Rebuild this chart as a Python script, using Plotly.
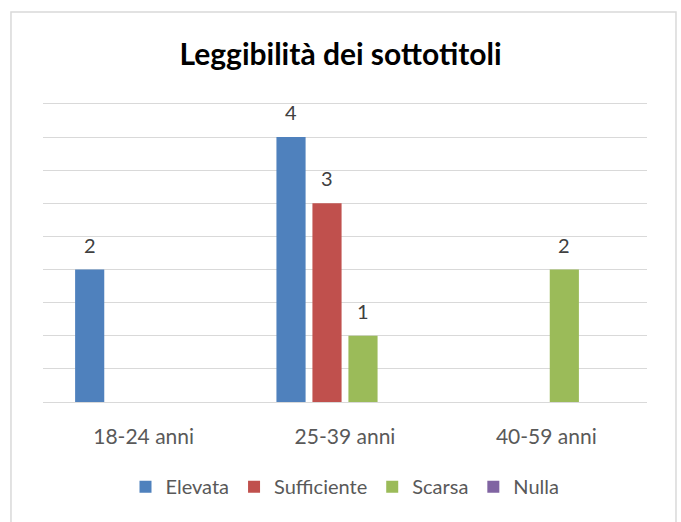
import plotly.graph_objects as go

categories = ["18-24 anni", "25-39 anni", "40-59 anni"]
series_names = ["Elevata", "Sufficiente", "Scarsa", "Nulla"]
elevata = [2, 4, 0]
sufficiente = [0, 3, 0]
scarsa = [0, 1, 2]
nulla = [0, 0, 0]
colors = ["#4F81BD", "#C0504D", "#9BBB59", "#8064A2"]

FONT = "Lato, 'Open Sans', sans-serif"
SLOT_PX = 36  # width of one bar slot inside a group

fig = go.Figure()
all_series = [elevata, sufficiente, scarsa, nulla]
for i, (name, vals, color) in enumerate(zip(series_names, all_series, colors)):
    fig.add_bar(
        name=name,
        x=categories,
        y=vals,
        marker=dict(color=color, line_width=0),
        hoverinfo="x+y+name",
    )
    # data labels, a bit higher above the bars than plotly's own outside text
    for cat, v in zip(categories, vals):
        if v:
            fig.add_annotation(
                x=cat,
                y=v,
                text=str(v),
                showarrow=False,
                yanchor="bottom",
                yshift=11,
                xshift=(i - 1.5) * SLOT_PX,
                font=dict(size=20, color="#404040", family=FONT),
            )

fig.update_layout(
    width=681,
    height=522,
    margin=dict(l=43, r=34, t=104, b=120),
    paper_bgcolor="white",
    plot_bgcolor="white",
    barmode="group",
    bargap=0.285,
    bargroupgap=0.19,
    font=dict(family=FONT, size=20, color="#595959"),
    title=dict(
        text="<b>Leggibilità dei sottotitoli</b>",
        x=0.5,
        xanchor="center",
        y=0.895,
        yanchor="middle",
        font=dict(size=30, color="#000000", family=FONT),
    ),
    xaxis=dict(
        showgrid=False,
        showline=True,
        mirror=True,
        linecolor="#D9D9D9",
        linewidth=1,
        ticks="",
        ticklabelstandoff=16,
        tickfont=dict(size=21, color="#595959"),
    ),
    yaxis=dict(
        range=[0, 4.5],
        dtick=0.5,
        showticklabels=False,
        showline=False,
        gridcolor="#D9D9D9",
        gridwidth=1,
        zeroline=False,
    ),
    legend=dict(
        orientation="h",
        x=0.5,
        xanchor="center",
        y=-0.284,
        yanchor="middle",
        font=dict(size=20, color="#595959"),
        itemwidth=30,
        traceorder="normal",
    ),
    shapes=[
        dict(
            type="rect",
            xref="paper",
            yref="paper",
            x0=-0.053,
            x1=1.048,
            y0=-0.45,
            y1=1.309,
            line=dict(color="#D9D9D9", width=1.5),
            fillcolor="rgba(0,0,0,0)",
            layer="below",
        )
    ],
)

fig.write_html(
    "out.html",
    config={"displayModeBar": False},
    post_script="document.body.style.margin='0';",
)
